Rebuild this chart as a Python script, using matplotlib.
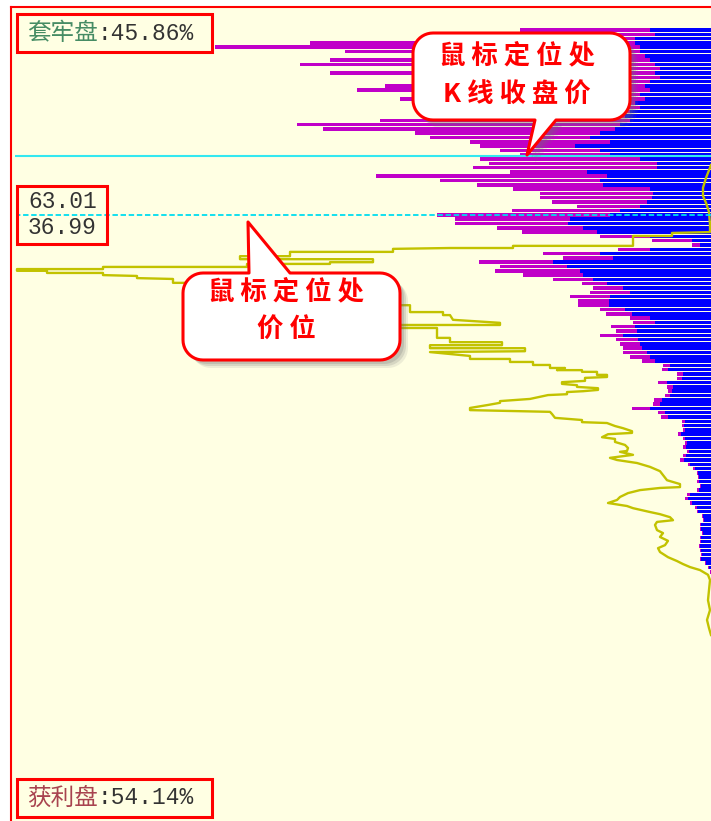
import numpy as np
import matplotlib
matplotlib.use('Agg')
import matplotlib.pyplot as plt
from matplotlib.patches import Polygon, Rectangle

plt.rcParams['font.family'] = ['DejaVu Sans', 'Noto Sans CJK SC']

# chip rows from top (high price) to bottom (low price), length from the right edge
total_len = [191, 151, 281, 401, 496, 366, 291, 381, 411, 271,
             381, 231, 291, 326, 354, 291, 311, 251, 281, 241,
             211, 331, 414, 388, 296, 281, 241, 231, 211, 191,
             231, 222, 238, 201, 335, 271, 234, 198, 171, 171,
             159, 134, 199, 274, 256, 256, 214, 189, 111, 59,
             19, 93, 168, 148, 232, 211, 216, 188, 158, 129,
             118, 121, 141, 133, 133, 111, 105, 81, 78, 100,
             95, 111, 95, 91, 88, 88, 81, 69, 48, 49,
             34, 34, 53, 44, 43, 46, 57, 58, 79, 53,
             50, 29, 29, 28, 33, 28, 26, 28, 24, 28,
             31, 23, 18, 14, 13, 14, 11, 14, 24, 26,
             21, 16, 14, 9, 8, 11, 11, 9, 11, 11,
             12, 11, 10, 11, 6, 3, 1]
blue_len = [61, 56, 76, 76, 71, 71, 66, 61, 56, 51,
            56, 51, 61, 66, 61, 71, 66, 76, 71, 81,
            86, 81, 91, 96, 111, 121, 101, 136, 111, 101,
            71, 54, 54, 124, 104, 111, 108, 61, 58, 59,
            64, 71, 91, 101, 141, 143, 128, 114, 61, 19,
            11, 61, 111, 98, 158, 144, 131, 128, 118, 104,
            88, 81, 101, 102, 102, 86, 79, 61, 56, 76,
            74, 88, 73, 71, 69, 64, 61, 56, 41, 43,
            28, 29, 44, 38, 39, 41, 49, 51, 61, 46,
            43, 26, 27, 26, 30, 26, 24, 25, 22, 25,
            27, 21, 16, 13, 12, 12, 10, 12, 21, 23,
            19, 14, 13, 8, 7, 10, 10, 8, 10, 10,
            11, 10, 9, 10, 5, 2, 0]
rows = np.arange(len(total_len))

close_row = 29.3
cursor_row = 43.1

# outline of the second distribution
yellow_len = [0, 5, 8, 8, 5, 2, 1, 1, 39, 39, 78, 78, 198, 198, 261, 318, 318, 421, 421, 471,
              471, 338, 338, 381, 381, 464, 464, 608, 608, 694, 694, 664, 664, 608, 608, 574,
              574, 538, 538, 481, 481, 411, 411, 351, 351, 301, 301, 268, 268, 261, 258, 211,
              211, 311, 311, 274, 274, 261, 261, 209, 209, 281, 281, 186, 186, 281, 241, 241,
              201, 201, 178, 178, 161, 161, 146, 154, 129, 129, 114, 114, 104, 104, 126, 126,
              149, 149, 134, 134, 113, 113, 128, 144, 144, 163, 171, 181, 211, 211, 223, 241,
              241, 199, 161, 159, 156, 129, 129, 104, 96, 88, 79, 79, 103, 109, 96, 96,
              86, 83, 84, 91, 78, 101, 94, 74, 61, 51, 48, 44, 31, 31, 51, 71,
              83, 91, 94, 103, 84, 78, 61, 51, 41, 38, 54, 56, 54, 48, 51, 43,
              46, 53, 51, 43, 34, 28, 21, 11, 3, 1, 2, 3, 1, 4, 2, 0]
yellow_row = [31.4, 34.4, 36.7, 38.6, 40.2, 42.3, 45.3, 47.0, 47.2, 47.9, 47.9, 50.2, 50.2, 50.7,
              50.7, 50.9, 51.6, 51.6, 52.6, 52.6, 53.3, 53.3, 54.0, 54.0, 54.4, 54.4, 55.1, 55.1,
              55.6, 55.6, 56.0, 56.0, 56.5, 56.5, 57.0, 57.2, 57.7, 57.9, 58.8, 58.8, 60.5, 60.5,
              62.3, 62.3, 64.0, 64.0, 65.6, 65.6, 66.3, 66.3, 67.4, 68.1, 68.6, 68.6, 69.3, 69.3,
              71.6, 71.6, 72.6, 72.6, 73.3, 73.3, 74.0, 74.0, 74.7, 74.9, 75.8, 76.5, 76.5, 77.2,
              77.2, 77.9, 77.9, 78.6, 78.6, 79.1, 79.1, 79.5, 79.5, 80.2, 80.2, 80.7, 80.9, 81.6,
              81.9, 82.3, 82.6, 83.0, 83.3, 83.7, 84.0, 84.2, 84.7, 84.9, 85.3, 85.8, 86.3, 86.7,
              87.2, 87.9, 88.4, 88.6, 88.8, 89.3, 90.2, 90.7, 91.2, 91.4, 92.1, 92.6, 93.3, 93.7,
              94.0, 94.7, 95.1, 95.8, 96.5, 97.2, 97.9, 98.1, 98.8, 99.5, 100.0, 100.7, 101.6,
              102.6, 103.5, 104.7, 105.6, 106.3, 106.5, 107.0, 107.7, 108.6, 109.3, 110.0, 110.7,
              111.2, 112.1, 112.6, 113.3, 114.0, 114.4, 115.1, 116.3, 117.0, 117.9, 118.8, 119.8,
              120.5, 121.4, 122.6, 123.5, 124.2, 124.9, 125.6, 126.7, 127.9, 130.2, 132.6, 134.9,
              137.2, 139.1, 140.7]

W, H = 711, 821
fig = plt.figure(figsize=(W / 100, H / 100), dpi=100)
fig.patch.set_facecolor('white')

ax = fig.add_axes([11 / W, 0, 700 / W, 814 / H])
ax.set_facecolor('#FFFFE3')
ax.barh(rows, total_len, height=0.8, color='#C000C8', linewidth=0)
ax.barh(rows, blue_len, height=0.8, color='#0000FF', linewidth=0)
ax.plot(yellow_len, yellow_row, color='#C2C200', lw=1.7)
ax.hlines(close_row, 0, 696, color='#33E8F0', lw=1.5)
ax.hlines(cursor_row, 0, 692, color='#00DDF0', lw=1.3, linestyles=[(0, (3, 1.5))])
ax.set_xlim(700, 0)
ax.set_ylim((821 - 30) / 4.3, (7 - 30) / 4.3)
ax.set_xticks([])
ax.set_yticks([])
for s in ['right', 'bottom']:
    ax.spines[s].set_visible(False)
for s in ['left', 'top']:
    ax.spines[s].set_color('#FF0000')
    ax.spines[s].set_linewidth(1.5)

# overlay in pixel units for labels and callouts
ov = fig.add_axes([0, 0, 1, 1])
ov.set_xlim(0, W)
ov.set_ylim(H, 0)
ov.axis('off')
ov.patch.set_alpha(0)

mono = ['Liberation Mono', 'Noto Sans CJK SC']
cjk = ['Noto Sans CJK SC']


def label_box(x0, y0, x1, y1):
    ov.add_patch(Rectangle((x0, y0), x1 - x0, y1 - y0, fill=False,
                           ec='#FF0000', lw=2.2))


label_box(17, 14, 212, 52)
t = ov.text(27, 33, '套牢盘', color='#468C64', fontsize=17, va='center',
            ha='left', family=cjk)
ov.annotate(':45.86%', xy=(1, 0.5), xycoords=t, va='center', ha='left',
            fontsize=16.5, color='#333333', family=mono)

label_box(17, 186, 107, 244)
ov.text(28, 202, '63.01', color='#333333', fontsize=16.5, va='center',
        ha='left', family=mono)
ov.text(28, 227, '36.99', color='#333333', fontsize=16.5, va='center',
        ha='left', family=mono)

label_box(17, 779, 212, 817)
t = ov.text(27, 798, '获利盘', color='#A8434F', fontsize=17, va='center',
            ha='left', family=cjk)
ov.annotate(':54.14%', xy=(1, 0.5), xycoords=t, va='center', ha='left',
            fontsize=16.5, color='#333333', family=mono)


def bubble_pts(x0, y0, x1, y1, r, tail, where):
    def arc(cx, cy, a0, a1):
        a = np.radians(np.linspace(a0, a1, 12))
        return list(zip(cx + r * np.cos(a), cy + r * np.sin(a)))
    pts = arc(x0 + r, y0 + r, 180, 270)
    if where == 'top':
        pts += tail
    pts += arc(x1 - r, y0 + r, 270, 360)
    pts += arc(x1 - r, y1 - r, 0, 90)
    if where == 'bottom':
        pts += tail
    pts += arc(x0 + r, y1 - r, 90, 180)
    return np.array(pts)


def bubble(x0, y0, x1, y1, tail, where, lines, cx, ys):
    pts = bubble_pts(x0, y0, x1, y1, 20, tail, where)
    for off, a in [(8, 0.12), (6, 0.18), (4, 0.22)]:
        ov.add_patch(Polygon(pts + off, closed=True, fc='#707070', ec='none', alpha=a))
    ov.add_patch(Polygon(pts, closed=True, fc='white', ec='#FF0000', lw=2.2,
                         joinstyle='round'))
    for txt, y in zip(lines, ys):
        ov.text(cx, y, txt, color='#FF0000', fontsize=19, fontweight='bold',
                ha='center', va='center', family=cjk)


bubble(413, 33, 630, 120, [(556, 120), (527, 155), (535, 120)], 'bottom',
       ['鼠 标 定 位 处', 'K 线 收 盘 价'], 517, [56, 95])
bubble(183, 273, 400, 360, [(249, 273), (248, 222), (290, 273)], 'top',
       ['鼠 标 定 位 处', '价 位'], 286, [292, 330])

fig.savefig('out.png', dpi=100, facecolor='white')
